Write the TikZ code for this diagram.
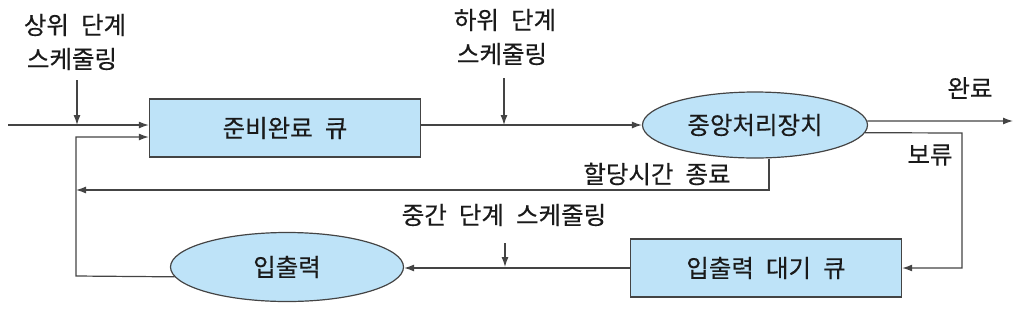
\documentclass[tikz,border=0pt]{standalone}
\usepackage{fontspec}
\newfontfamily\kr[WordSpace=2.2,FakeBold=0.4]{Noto Sans CJK KR}
\usetikzlibrary{shapes.geometric,arrows.meta}
\definecolor{boxfill}{HTML}{BEE3F8}
\definecolor{edge}{HTML}{444444}
\definecolor{ink}{HTML}{1A1A1A}
\begin{document}
\begin{tikzpicture}[x=1pt,y=-1pt,
  every node/.style={font=\kr\fontsize{24.5}{28}\selectfont, text=ink},
  queuebox/.style={draw=edge, line width=1.4pt, fill=boxfill, minimum width=271pt, minimum height=58pt, inner sep=0pt},
  procell/.style={ellipse, draw=edge, line width=1.2pt, fill=boxfill, inner sep=0pt},
  lbl/.style={inner sep=0pt, align=center},
  conn/.style={draw=edge, line width=1.2pt},
  arr/.style={conn, -{Latex[length=10pt,width=7pt]}}]
\useasboundingbox (0,0) rectangle (1024,309);

\node[queuebox] (rq) at (285,128) {준비완료 큐};
\node[procell, minimum width=225pt, minimum height=66pt] (cpu) at (755,125) {중앙처리장치};
\node[queuebox] (ioq) at (766,268) {입출력 대기 큐};
\node[procell, minimum width=233pt, minimum height=69pt] (io) at (287,267) {입출력};

\node[lbl] (hi1) at (75,25) {상위 단계};
\node[lbl] (hi2) at (72,59) {스케줄링};
\node[lbl] (lo1) at (505,20) {하위 단계};
\node[lbl] (lo2) at (502,54) {스케줄링};
\node[lbl] (done) at (970,88) {완료};
\node[lbl] (hold) at (930,155) {보류};
\node[lbl] (tq) at (657,174) {할당시간 종료};
\node[lbl] (mid) at (504,215) {중간 단계 스케줄링};

\coordinate (in) at (8,125);
\coordinate (hiTop) at (77,80);
\coordinate (hiJoin) at (77,125);
\coordinate (loTop) at (504,78);
\coordinate (loJoin) at (504,125);
\coordinate (doneEnd) at (1013,121);
\coordinate (tqTurn) at (769,190);
\coordinate (tqEnd) at (76,190);
\coordinate (holdTurn) at (962,133);
\coordinate (holdDown) at (962,268);
\coordinate (midTop) at (505,243);
\coordinate (midJoin) at (505,267);
\coordinate (fbCorner) at (76,276);
\coordinate (fbUp) at (76,137);

% input
\draw[arr] (in) -- (in -| rq.west);
\draw[arr] (hiTop) -- (hiJoin);
% ready queue to cpu
\draw[arr] (rq.east |- cpu) -- (cpu.west);
\draw[arr] (loTop) -- (loJoin);
% done
\draw[arr] (cpu.2) -- (doneEnd);
% hold
\draw[arr] (cpu.-4) -- (holdTurn) -- (holdDown) -- (ioq.east);
% time quantum expired
\draw[arr] ([xshift=14pt]cpu.south) -- (tqTurn) -- (tqEnd);
% io wait queue to io
\draw[arr] (ioq.west) -- (ioq.west -| io.east);
\draw[arr] (midTop) -- (midJoin);
% io back to ready queue
\draw[arr] (io.185) -- (fbCorner) -- (fbUp) -- (fbUp -| rq.west);
\end{tikzpicture}
\end{document}
